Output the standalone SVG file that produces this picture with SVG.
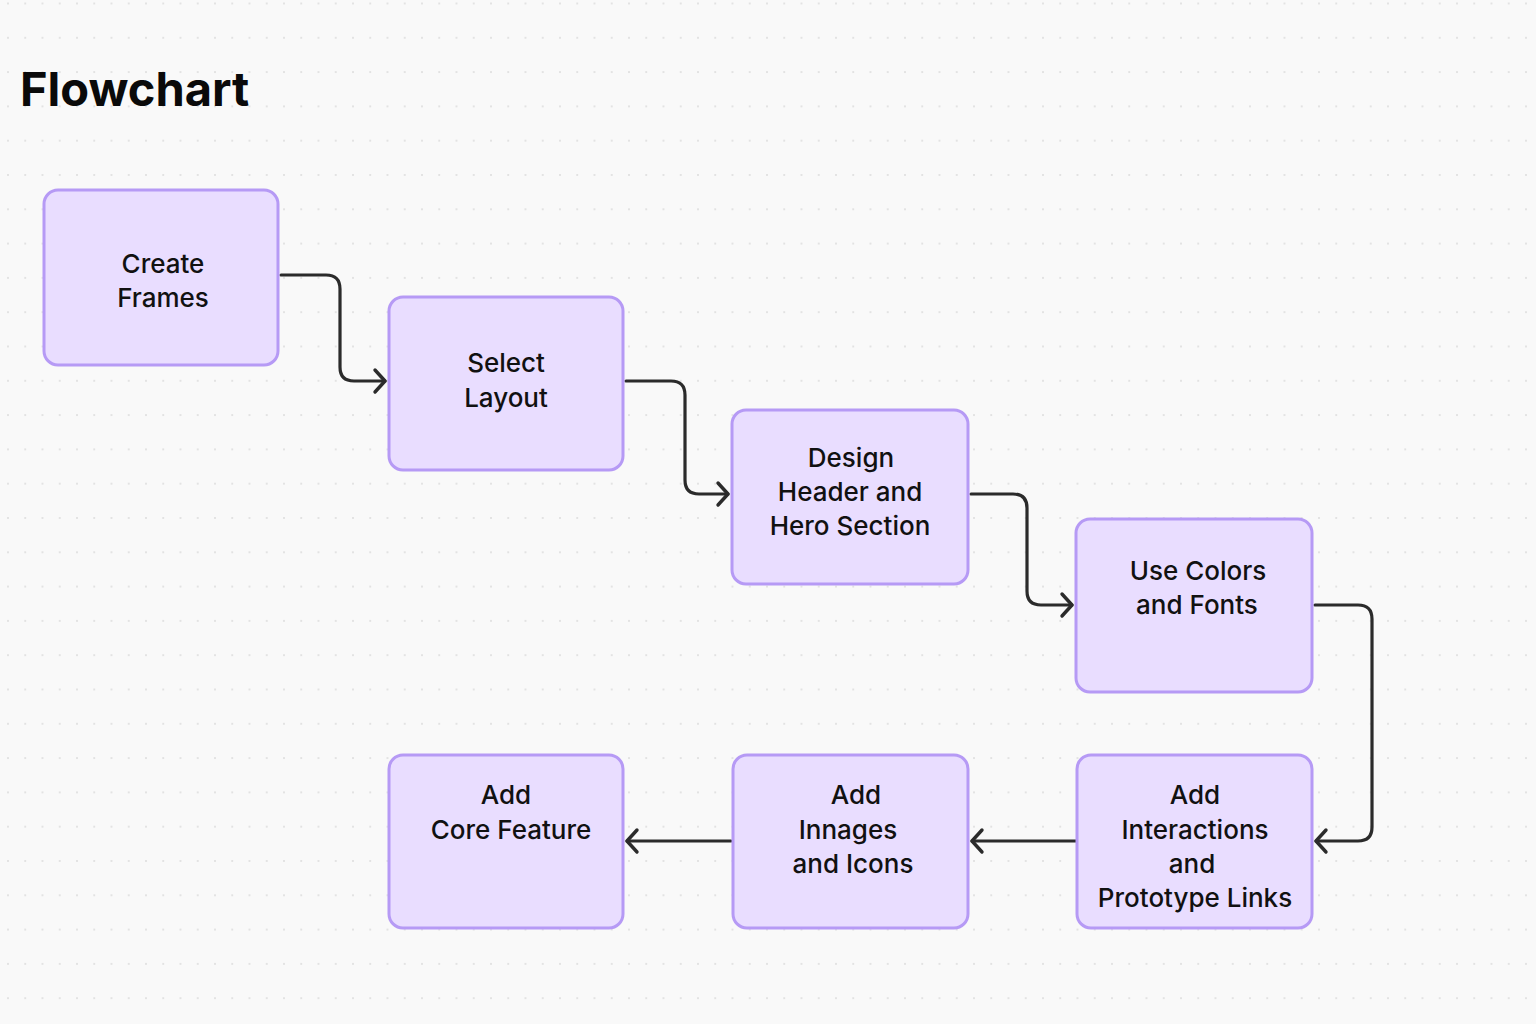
<svg xmlns="http://www.w3.org/2000/svg" width="1536" height="1024" viewBox="0 0 1536 1024">
<defs>
<pattern id="dots" x="7" y="2.5" width="17.25" height="34.3" patternUnits="userSpaceOnUse">
<circle cx="1" cy="1" r="1" fill="#dcdcdc"/>
</pattern>
<marker id="arr" markerWidth="16" markerHeight="28" refX="13" refY="14" orient="auto" markerUnits="userSpaceOnUse">
<path d="M3,3 L13,14 L3,25" fill="none" stroke="#2b2b2b" stroke-width="3.4" stroke-linecap="round" stroke-linejoin="round"/>
</marker>
<style>
.node rect{fill:#e9ddff;stroke:#b69af5;stroke-width:3}
.node text{font-family:Inter,"Noto Sans","Liberation Sans",sans-serif;font-size:26px;font-weight:500;fill:#111;text-anchor:middle}
.conn path{fill:none;stroke:#2b2b2b;stroke-width:3.2;stroke-linecap:round;stroke-linejoin:round}
</style>
</defs>
<rect width="1536" height="1024" fill="#f9f9f9"/>
<rect width="1536" height="1024" fill="url(#dots)"/>
<text x="20" y="106" font-family="Inter,'Liberation Sans',sans-serif" font-weight="700" font-size="47" fill="#0a0a0a">Flowchart</text>
<g class="conn">
<path d="M281,275 H326 Q340,275 340,289 V367 Q340,381 354,381 H385" marker-end="url(#arr)"/>
<path d="M626,381 H671 Q685,381 685,395 V480 Q685,494 699,494 H728" marker-end="url(#arr)"/>
<path d="M971,494 H1013 Q1027,494 1027,508 V591 Q1027,605 1041,605 H1072" marker-end="url(#arr)"/>
<path d="M1315,605 H1358 Q1372,605 1372,619 V827 Q1372,841 1358,841 H1316" marker-end="url(#arr)"/>
<path d="M1076,841 H972" marker-end="url(#arr)"/>
<path d="M731,841 H627" marker-end="url(#arr)"/>
</g>
<g id="n1" class="node"><rect x="44" y="190" width="234" height="175" rx="14"/><text x="163" y="273">Create</text><text x="163" y="307">Frames</text></g>
<g id="n2" class="node"><rect x="389" y="297" width="234" height="173" rx="14"/><text x="506" y="372">Select</text><text x="506" y="407">Layout</text></g>
<g id="n3" class="node"><rect x="732" y="410" width="236" height="174" rx="14"/><text x="851" y="467">Design</text><text x="850" y="501">Header and</text><text x="850" y="535">Hero Section</text></g>
<g id="n4" class="node"><rect x="1076" y="519" width="236" height="173" rx="14"/><text x="1198" y="580">Use Colors</text><text x="1197" y="614">and Fonts</text></g>
<g id="n5" class="node"><rect x="1077" y="755" width="235" height="173" rx="14"/><text x="1195" y="804">Add</text><text x="1195" y="839">Interactions</text><text x="1192" y="873">and</text><text x="1195" y="907">Prototype Links</text></g>
<g id="n6" class="node"><rect x="733" y="755" width="235" height="173" rx="14"/><text x="856" y="804">Add</text><text x="848" y="839">Innages</text><text x="853" y="873">and Icons</text></g>
<g id="n7" class="node"><rect x="389" y="755" width="234" height="173" rx="14"/><text x="506" y="804">Add</text><text x="511" y="839">Core Feature</text></g>
</svg>
